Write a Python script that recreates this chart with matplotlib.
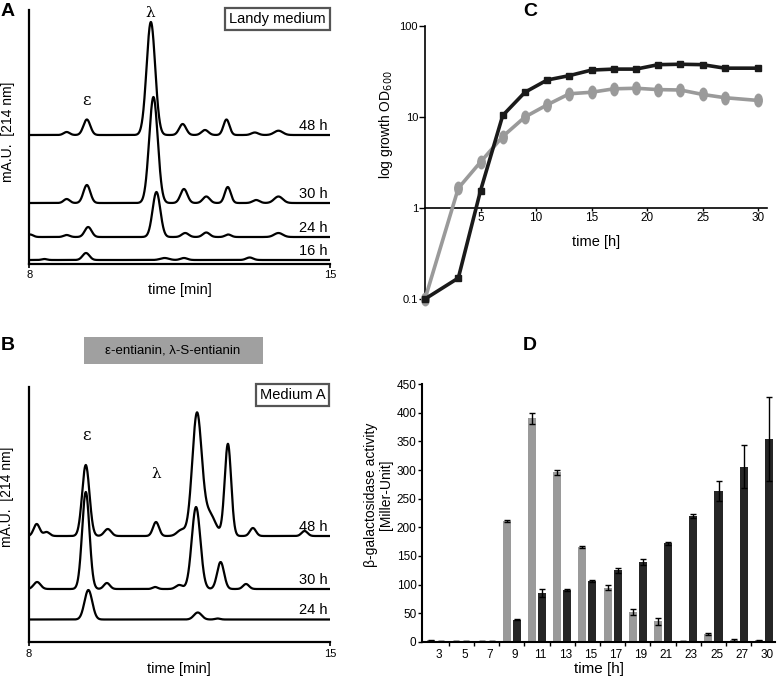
import numpy as np
import matplotlib.pyplot as plt
from matplotlib.path import Path
from matplotlib.transforms import Affine2D
from matplotlib.patches import Rectangle

plt.rcParams['font.family'] = ['Liberation Sans', 'DejaVu Sans']

W, H = 777, 678

# --- panel A: HPLC traces, Landy medium (peak: position [min], height, width [min])
a_labels = ['48 h', '30 h', '24 h', '16 h']
a_baselines = [128.5, 60.5, 26.5, 3.5]
a_peaks = [
    [(8.87, 3, 0.07), (9.34, 15.5, 0.08), (10.83, 113, 0.1), (11.57, 11, 0.08),
     (12.09, 5, 0.08), (12.59, 15.5, 0.07), (13.25, 2.5, 0.08), (13.8, 4.3, 0.1)],
    [(8.87, 4, 0.07), (9.34, 18, 0.08), (10.89, 106, 0.1), (11.6, 14, 0.08),
     (12.12, 6.5, 0.08), (12.62, 16, 0.07), (13.28, 3, 0.08), (13.8, 6.5, 0.1)],
    [(8.02, 2.5, 0.07), (8.87, 2, 0.07), (9.37, 10, 0.08), (10.96, 45, 0.09),
     (11.63, 4, 0.08), (12.12, 4.5, 0.08), (12.63, 2.5, 0.07), (13.8, 4, 0.1)],
    [(8.35, 1, 0.06), (9.32, 7, 0.08), (11.15, 2, 0.1), (11.6, 2, 0.08), (13.13, 2.5, 0.08)],
]

# --- panel B: HPLC traces, medium A
b_labels = ['48 h', '30 h', '24 h']
b_baselines = [106, 53, 22.5]
b_peaks = [
    [(8.19, 12, 0.07), (8.42, 4, 0.07), (9.33, 71, 0.085), (9.84, 7, 0.08),
     (10.96, 14, 0.07), (11.55, 6, 0.1), (11.91, 121, 0.11), (12.2, 22, 0.14),
     (12.63, 92, 0.075), (13.21, 8, 0.07), (14.41, 5, 0.07)],
    [(8.2, 7, 0.08), (9.33, 97, 0.085), (9.82, 6, 0.07), (10.94, 2, 0.06),
     (11.5, 4, 0.08), (11.89, 82, 0.1), (12.46, 27, 0.08), (13.05, 5, 0.07)],
    [(9.39, 29.5, 0.09), (11.93, 7, 0.09), (12.39, 1, 0.06)],
]

# --- panel C: growth curves
growth_t = [0, 3, 5, 7, 9, 11, 13, 15, 17, 19, 21, 23, 25, 27, 30]
growth_black = [0.1, 0.17, 1.55, 10.4, 18.7, 25.5, 28.5, 32.8, 33.6, 33.6, 37.6, 38, 37.6, 34.4, 34.4]
growth_gray = [0.1, 1.65, 3.2, 6.1, 10, 13.6, 18, 18.7, 20.4, 20.7, 20, 19.8, 17.7, 16.3, 15.2]

# --- panel D: beta-galactosidase activity
d_hours = ['3', '5', '7', '9', '11', '13', '15', '17', '19', '21', '23', '25', '27', '30']
d_gray = [3, 2, 2, 211, 390, 296, 166, 95, 52, 36, 2, 14, 4, 3]
d_gray_err = [1, 0.5, 0.5, 1, 9, 4, 2, 5, 5, 6, 0.5, 1, 2, 1]
d_black = [2, 2, 2, 39, 85, 91, 107, 125, 139, 172, 220, 263, 306, 354]
d_black_err = [0.5, 0.5, 0.5, 1, 7, 1.5, 2, 4, 5, 2, 4, 17, 38, 73]


def px_box(x0, y0, x1, y1):
    return [x0 / W, 1 - y1 / H, (x1 - x0) / W, (y1 - y0) / H]


def trace(t, base, peaks):
    y = np.full_like(t, base)
    for pos, h, s in peaks:
        y += h * np.exp(-0.5 * ((t - pos) / s) ** 2)
    return y


def chrom_axes(ax, top):
    ax.set_xlim(8, 15)
    ax.set_ylim(0, top)
    ax.spines['top'].set_visible(False)
    ax.spines['right'].set_visible(False)
    ax.spines['left'].set_linewidth(1.6)
    ax.spines['bottom'].set_linewidth(1.6)
    ax.set_yticks([])
    ax.set_xticks([8, 15])
    ax.tick_params(axis='x', length=3, width=1.2, labelsize=8, pad=2)
    ax.set_xlabel('time [min]', fontsize=10.5, labelpad=2)
    ax.set_ylabel('mA.U.  [214 nm]', fontsize=10)


fig = plt.figure(figsize=(W / 100, H / 100), dpi=100)
t_min = np.linspace(8, 15, 1500)

# Panel A
axA = fig.add_axes(px_box(29.3, 10, 330, 263.5))
chrom_axes(axA, 253.5)
for lab, base, peaks in zip(a_labels, a_baselines, a_peaks):
    axA.plot(t_min, trace(t_min, base, peaks), color='black', lw=1.6)
    axA.text(14.95, base + 2, lab, ha='right', va='bottom', fontsize=10.5)
axA.text(9.34, 163, 'ε', ha='center', va='center', fontsize=12, family='DejaVu Serif')
axA.text(10.81, 251, 'λ', ha='center', va='center', fontsize=11, family='DejaVu Serif')
axA.yaxis.set_label_coords(-0.048, 0.52)

# Panel B
axB = fig.add_axes(px_box(28.5, 387, 330, 642))
chrom_axes(axB, 255)
for lab, base, peaks in zip(b_labels, b_baselines, b_peaks):
    axB.plot(t_min, trace(t_min, base, peaks), color='black', lw=1.6)
    axB.text(14.95, base + 2, lab, ha='right', va='bottom', fontsize=10.5)
axB.text(9.35, 207, 'ε', ha='center', va='center', fontsize=12, family='DejaVu Serif')
axB.text(10.97, 168, 'λ', ha='center', va='center', fontsize=11, family='DejaVu Serif')
axB.yaxis.set_label_coords(-0.048, 0.57)

# text boxes
fig.text(277.5 / W, 1 - 19 / H, 'Landy medium', ha='center', va='center', fontsize=10.5,
         bbox=dict(boxstyle='square,pad=0.3', fc='white', ec='#555555', lw=1.6))
fig.text(292.5 / W, 1 - 395 / H, 'Medium A', ha='center', va='center', fontsize=10.5,
         bbox=dict(boxstyle='square,pad=0.25', fc='white', ec='#555555', lw=1.6))
fig.patches.append(Rectangle((84 / W, 1 - 364 / H), 179 / W, 27 / H, transform=fig.transFigure,
                             facecolor='#a0a0a0', edgecolor='none'))
fig.text(173 / W, 1 - 350.5 / H, 'ε-entianin, λ-S-entianin', ha='center', va='center',
         fontsize=9.5)

# Panel C
axC = fig.add_axes(px_box(425, 26, 767, 299))
axC.set_yscale('log')
axC.set_xlim(0, 30.8)
axC.set_ylim(0.1, 100)
ellipse = Path.unit_circle().transformed(Affine2D().scale(0.6, 1.0))
axC.plot(growth_t, growth_gray, color='#9a9a9a', lw=2.6, marker=ellipse, ms=9,
         clip_on=False, zorder=3)
axC.plot(growth_t, growth_black, color='#1a1a1a', lw=2.6, marker='s', ms=5,
         clip_on=False, zorder=4)
axC.spines['top'].set_visible(False)
axC.spines['right'].set_visible(False)
axC.spines['bottom'].set_position(('data', 1))
axC.spines['left'].set_linewidth(1.2)
axC.spines['bottom'].set_linewidth(1.2)
axC.set_yticks([0.1, 1, 10, 100])
axC.set_yticklabels(['0.1', '1', '10', '100'])
axC.yaxis.set_minor_locator(plt.NullLocator())
axC.set_xticks([5, 10, 15, 20, 25, 30])
axC.tick_params(axis='y', length=4, width=1, labelsize=8, pad=1)
axC.tick_params(axis='x', length=2, width=1, labelsize=8.5, pad=1)
axC.set_ylabel('log growth OD$_{600}$', fontsize=10)
axC.yaxis.set_label_coords(-0.088, 0.64)
fig.text(596 / W, 1 - 242 / H, 'time [h]', ha='center', va='center', fontsize=10.5)

# Panel D
axD = fig.add_axes(px_box(422, 384, 775, 642))
pos = np.arange(len(d_hours))
axD.bar(pos - 0.2, d_gray, width=0.32, color='#9a9a9a', yerr=d_gray_err,
        error_kw=dict(ecolor='black', elinewidth=1, capsize=2, capthick=1))
axD.bar(pos + 0.2, d_black, width=0.32, color='#262626', yerr=d_black_err,
        error_kw=dict(ecolor='black', elinewidth=1, capsize=2, capthick=1))
axD.set_xlim(-0.56, 13.44)
axD.set_ylim(0, 450)
axD.set_yticks(np.arange(0, 451, 50))
axD.set_xticks(pos + 0.12)
axD.set_xticklabels(d_hours)
axD.set_xticks(np.arange(0.5, 13, 1), minor=True)
axD.tick_params(axis='x', which='major', length=0, labelsize=8.5, pad=5)
axD.tick_params(axis='x', which='minor', length=3, width=1)
axD.tick_params(axis='y', length=3, width=1, labelsize=8.5, pad=1)
axD.spines['top'].set_visible(False)
axD.spines['right'].set_visible(False)
axD.spines['left'].set_linewidth(1.5)
axD.spines['bottom'].set_linewidth(1.5)
axD.set_ylabel('β-galactosidase activity\n[Miller-Unit]', fontsize=10, linespacing=1.1)
axD.yaxis.set_label_coords(-0.082, 0.57)
axD.set_xlabel('time [h]', fontsize=11, labelpad=1)

# panel letters
for letter, x, y in [('A', 1, 11), ('B', 1, 345), ('C', 523, 12), ('D', 523, 346)]:
    fig.text(x / W, 1 - y / H, letter, ha='left', va='center', fontsize=14, weight='bold')

fig.savefig('out.png', dpi=100)
